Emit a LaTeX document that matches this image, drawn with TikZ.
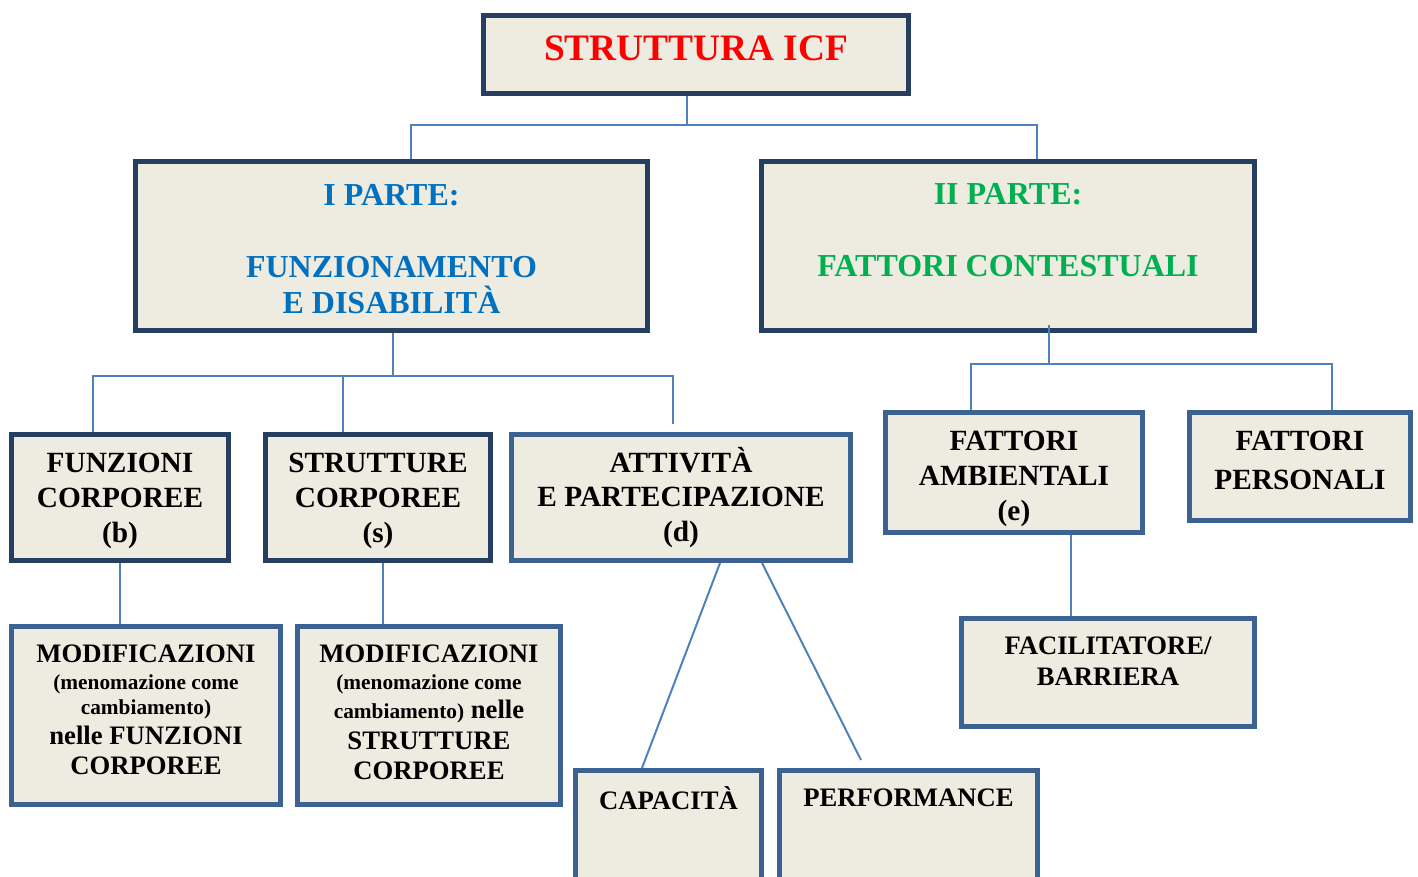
\documentclass[tikz,border=0pt]{standalone}
\usepackage{fontspec}
\setmainfont{Liberation Serif}
\usetikzlibrary{calc}
\newdimen\pxu \pxu=0.75pt
\newcommand\lift[1]{\rule[-#1\pxu]{0pt}{0pt}}
\newcommand\drop[1]{\rule{0pt}{\dimexpr\fontcharht\font`T+#1\pxu\relax}}
\definecolor{boxfill}{HTML}{EEECE1}
\definecolor{navyline}{HTML}{263E60}
\definecolor{blueline}{HTML}{3C6292}
\definecolor{linkblue}{HTML}{4F81BD}
\definecolor{icfred}{HTML}{FF0000}
\definecolor{partblue}{HTML}{0070C0}
\definecolor{partgreen}{HTML}{00B050}
\tikzset{
	box/.style={draw, fill=boxfill, line width=5\pxu, align=center, inner sep=0pt},
	navybox/.style={box, draw=navyline},
	bluebox/.style={box, draw=blueline},
	wh/.style 2 args={minimum width=#1\pxu, minimum height=#2\pxu},
	f28/.style={font=\bfseries\fontsize{28}{32}\selectfont},
	f24/.style={font=\bfseries\fontsize{24}{27}\selectfont},
	f22/.style={font=\bfseries\fontsize{22}{26}\selectfont},
	f20/.style={font=\bfseries\fontsize{20}{23}\selectfont},
	link/.style={draw=linkblue, line width=2\pxu}
}
\newcommand\smalltxt{\fontsize{16}{19}\selectfont}

\begin{document}
\begin{tikzpicture}[x=0.75pt, y=-0.75pt]
	%%%%% START %%%%%
	\clip (0,0) rectangle (1418,877);
	
	\node[navybox, f28, text=icfred, wh={425}{78}] (icf) at (696,54.5) {STRUTTURA ICF\lift{12}};
	
	\node[navybox, f24, text=partblue, wh={512}{169}] (p1) at (391.5,246)
		{\drop{6}I PARTE:\\[27pt]FUNZIONAMENTO\\E DISABILITÀ};
	\node[navybox, f24, text=partgreen, wh={493}{169}] (p2) at (1008,246)
		{II PARTE:\\[27pt]FATTORI CONTESTUALI\lift{32}};
	
	\node[navybox, f22, wh={217}{126}] (fc) at (120,497.5) {\drop{7}FUNZIONI\\CORPOREE\\(b)};
	\node[navybox, f22, wh={225}{126}] (sc) at (378,497.5) {\drop{7}STRUTTURE\\CORPOREE\\(s)};
	\node[bluebox, f22, wh={339}{126}] (ap) at (681,497.5) {ATTIVITÀ\\E PARTECIPAZIONE\\(d)};
	
	\node[bluebox, f22, wh={257}{120}] (fa) at (1014,472.5) {\drop{13}FATTORI\\AMBIENTALI\\(e)};
	\node[bluebox, f22, wh={221}{108}] (fp) at (1300,466.5) {FATTORI\\[3pt]PERSONALI\lift{13}};
	\node[bluebox, f20, wh={293}{108}] (fb) at (1108,672.5) {FACILITATORE/\\BARRIERA\lift{23}};
	
	\node[bluebox, f20, wh={269}{178}] (mf) at (146,715.5)
		{MODIFICAZIONI\\[-3pt]{\smalltxt (menomazione come}\\[-4pt]{\smalltxt cambiamento)}\\[-1pt]nelle FUNZIONI\\CORPOREE\lift{11}};
	\node[bluebox, f20, wh={263}{178}] (ms) at (429,715.5)
		{MODIFICAZIONI\\[-3pt]{\smalltxt (menomazione come}\\[-1pt]{\smalltxt cambiamento)} nelle\\STRUTTURE\\CORPOREE\lift{6}};
	
	\node[bluebox, f20, wh={186}{187}] (cap) at (668.5,864) {CAPACITÀ\lift{132}};
	\node[bluebox, f20, wh={258}{187}] (perf) at (908.5,864) {PERFORMANCE\lift{132}};
	
	\draw[link] ($(icf.south)+(-9,0)$) -- ++(0,29) -| ($(p1.north)+(19.5,0)$);
	\draw[link] ($(icf.south)+(-9,29)$) -| ($(p2.north)+(29,0)$);
	
	\draw[link] ($(p1.south)+(1.5,0)$) -- ++(0,43) -| ($(fc.north)+(-27,0)$);
	\draw[link] ($(p1.south)+(1.5,43)$) -| ($(sc.north)+(-35,0)$);
	\draw[link] ($(p1.south)+(1.5,43)$) -| ($(ap.north)+(-8,-8)$);
	
	\draw[link] ($(p2.south)+(41,-8)$) -- ++(0,39) -| ($(fa.north)+(-43,0)$);
	\draw[link] ($(p2.south)+(41,31)$) -| ($(fp.north)+(32,0)$);
	
	\draw[link] (fc.south) -- (fc.south |- mf.north);
	\draw[link] ($(sc.south)+(5,0)$) -- ($(ms.north)+(-46,0)$);
	\draw[link] ($(ap.south)+(39,0)$) -- ($(cap.north)+(-26.5,0)$);
	\draw[link] ($(ap.south)+(81,0)$) -- ($(perf.north)+(-47.5,-8)$);
	\draw[link] ($(fa.south)+(57,0)$) -- ($(fb.north)+(-37,0)$);
	%%%%% END %%%%%
\end{tikzpicture}
\end{document}
